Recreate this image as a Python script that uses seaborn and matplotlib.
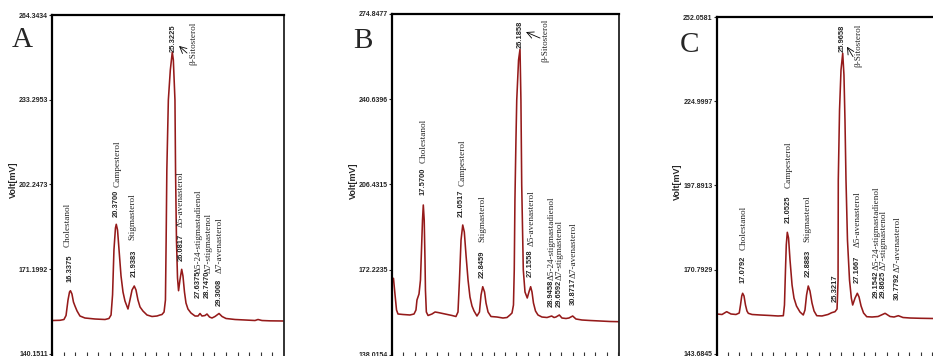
import matplotlib
matplotlib.use("Agg")

import numpy as np
import matplotlib.pyplot as plt
import seaborn as sns
from matplotlib import font_manager

# ───────────── chromatogram traces (min, mV) ─────────────
A_TIME = [14.80, 15.49, 15.83, 16.01, 16.18, 16.31, 16.39, 16.52, 16.65, 16.78,
          16.96, 17.21, 17.64, 18.51, 19.37, 19.71, 19.89, 20.02, 20.14, 20.27,
          20.34, 20.45, 20.58, 20.75, 20.92, 21.09, 21.35, 21.52, 21.70, 21.89,
          22.04, 22.21, 22.39, 22.64, 22.99, 23.42, 23.85, 24.11, 24.28, 24.46,
          24.58, 24.64, 24.70, 24.83, 25.00, 25.17, 25.26, 25.40, 25.45, 25.53,
          25.62, 25.71, 25.83, 25.98, 26.09, 26.22, 26.35, 26.52, 26.78, 27.13,
          27.39, 27.56, 27.73, 27.99, 28.16, 28.38, 28.59, 28.85, 29.20, 29.46,
          29.80, 30.58, 31.44, 32.30, 32.56, 32.90, 33.59, 34.80]
A_VOLT = [152.42, 152.50, 152.79, 154.25, 159.93, 162.86, 163.34, 162.13, 159.20, 157.73,
          155.90, 154.07, 153.34, 152.97, 152.79, 153.16, 154.44, 161.80, 178.25, 186.31,
          187.67, 185.58, 178.25, 168.73, 162.86, 159.57, 156.64, 159.93, 163.60, 165.06,
          163.60, 159.93, 157.37, 155.90, 154.44, 153.89, 154.07, 154.44, 154.62, 155.54,
          159.93, 181.91, 207.56, 233.20, 244.19, 250.79, 247.86, 233.20, 207.56, 181.91,
          167.99, 163.34, 167.26, 171.18, 168.73, 162.86, 158.83, 156.64, 155.17, 154.07,
          154.07, 154.99, 154.07, 154.25, 154.80, 153.70, 153.34, 153.89, 154.99, 153.89,
          153.16, 152.79, 152.61, 152.42, 152.79, 152.42, 152.30, 152.24]

B_TIME = [14.76, 14.89, 15.03, 15.16, 15.29, 15.73, 16.35, 16.71, 16.88, 16.97,
          17.15, 17.28, 17.37, 17.46, 17.53, 17.61, 17.68, 17.72, 17.80, 17.95,
          18.30, 18.57, 18.83, 19.45, 20.07, 20.42, 20.60, 20.73, 20.87, 21.02,
          21.16, 21.31, 21.49, 21.66, 21.84, 22.02, 22.28, 22.50, 22.64, 22.79,
          22.95, 23.08, 23.26, 23.52, 24.05, 24.58, 24.94, 25.20, 25.38, 25.51,
          25.58, 25.64, 25.73, 25.80, 25.96, 26.09, 26.17, 26.24, 26.38, 26.53,
          26.73, 26.88, 27.03, 27.15, 27.28, 27.46, 27.68, 28.03, 28.48, 28.89,
          29.10, 29.27, 29.57, 29.80, 30.16, 30.42, 30.75, 31.04, 31.57, 32.28,
          33.17, 34.05, 34.85]
B_VOLT = [167.31, 168.79, 162.09, 156.07, 154.47, 154.27, 154.07, 154.47, 156.07, 160.09,
          162.49, 168.11, 180.15, 192.19, 198.21, 192.19, 176.14, 164.10, 155.27, 153.87,
          154.47, 155.27, 155.07, 154.47, 153.87, 153.46, 155.27, 168.11, 184.16, 190.18,
          187.37, 178.14, 168.11, 161.29, 157.68, 155.67, 153.66, 155.27, 162.09, 165.42,
          163.30, 158.88, 155.27, 153.46, 153.26, 152.86, 153.06, 154.07, 154.87, 158.08,
          172.12, 200.21, 224.29, 240.34, 256.39, 260.68, 240.34, 206.23, 172.12, 163.30,
          160.89, 163.30, 165.42, 163.30, 158.88, 155.67, 154.07, 153.26, 153.06, 153.66,
          153.06, 153.26, 154.07, 152.86, 152.66, 152.86, 153.66, 152.46, 152.06, 151.86,
          151.66, 151.46, 151.38]

C_TIME = [14.78, 15.25, 15.66, 16.04, 16.48, 16.77, 16.88, 16.99, 17.07, 17.19,
          17.32, 17.45, 17.57, 17.90, 18.60, 19.48, 20.19, 20.66, 20.76, 20.85,
          20.92, 21.01, 21.12, 21.25, 21.43, 21.60, 21.82, 22.13, 22.42, 22.57,
          22.71, 22.86, 23.01, 23.19, 23.37, 23.61, 24.07, 24.60, 24.93, 25.22,
          25.40, 25.49, 25.51, 25.62, 25.75, 25.90, 26.01, 26.10, 26.19, 26.32,
          26.50, 26.66, 26.78, 26.99, 27.19, 27.34, 27.52, 27.74, 28.02, 28.49,
          29.02, 29.64, 30.08, 30.43, 30.81, 31.22, 31.84, 32.72, 33.87, 34.93]
C_VOLT = [156.55, 156.39, 157.29, 156.55, 156.39, 156.87, 159.44, 162.34, 163.21, 162.34,
          159.44, 157.51, 156.77, 156.39, 156.23, 156.07, 155.91, 156.00, 159.44, 170.70,
          178.74, 182.82, 180.99, 173.91, 165.87, 161.69, 159.12, 157.19, 156.23, 157.83,
          162.66, 165.55, 163.94, 160.08, 157.51, 156.00, 155.91, 156.39, 156.97, 157.29,
          158.16, 167.48, 199.64, 222.15, 235.02, 240.39, 233.41, 218.94, 199.64, 180.35,
          167.48, 161.69, 159.44, 161.69, 163.21, 162.02, 159.12, 156.87, 155.68, 155.58,
          155.74, 156.77, 155.74, 155.58, 156.00, 155.42, 155.26, 155.17, 155.10, 155.10]

A_YTICKS = [140.1511, 171.1992, 202.2473, 233.2953, 264.3434]
B_YTICKS = [138.0154, 172.2235, 206.4315, 240.6396, 274.8477]
C_YTICKS = [143.6845, 170.7929, 197.8913, 224.9997, 252.0581]

A_RT = ["16.3375", "20.3700", "21.9383", "25.3225", "26.0817",
        "27.6375", "28.7470", "29.3008"]
B_RT = ["17.5700", "21.0517", "22.8459", "26.1858", "27.1558",
        "28.9458", "29.6592", "30.8717"]
C_RT = ["17.0792", "21.0525", "22.8883", "25.3217", "25.9658", "27.1667",
        "29.1542", "29.8625", "30.7792"]

STEROLS = ["Cholestanol", "Campesterol", "Stigmasterol", "β-Sitosterol",
           "Δ5-avenasterol", "Δ5-24-stigmastadienol", "Δ7-stigmastenol",
           "Δ7-avenasterol"]

# ───────────── layout (label anchors in data units, panel boxes in px) ─────────────
W, H = 933, 356
PANELS = {
    "A": dict(box=(52, 15, 232), xlim=(14.80, 34.80), ylim=(139.4184, 264.3434),
              num_pos=[(16.35, 166.5), (20.32, 190.4), (21.89, 168.5), (25.21, 250.9),
                       (25.92, 174.2), (27.42, 160.7), (28.18, 160.7), (29.20, 157.7)],
              name_pos=[(16.18, 179.3), (20.45, 201.3), (21.76, 181.9), (26.98, 246.0),
                        (25.92, 186.7), (27.46, 169.8), (28.30, 169.8), (29.28, 169.8)],
              arrow=((26.44, 250.4), (25.75, 253.0)),
              letter=(12, 47), ylab=(-0.147, 0.516)),
    "B": dict(box=(392, 14, 227), xlim=(14.76, 34.85), ylim=(137.614, 274.8477),
              num_pos=[(17.53, 202.2), (20.93, 193.5), (22.79, 168.8), (26.09, 261.1),
                       (27.03, 169.3), (28.84, 157.3), (29.56, 157.3), (30.80, 158.1)],
              name_pos=[(17.53, 215.1), (21.02, 205.8), (22.79, 183.5), (28.30, 255.6),
                        (27.10, 181.8), (28.90, 168.1), (29.62, 168.1), (30.82, 168.8)],
              arrow=((27.86, 265.2), (26.62, 267.6)),
              letter=(353, 48), ylab=(-0.148, 0.512)),
    "C": dict(box=(716.7, 17, 228.9), xlim=(14.78, 34.98), ylim=(143.04, 252.0581),
              num_pos=[(17.13, 166.4), (21.10, 185.7), (22.86, 168.5), (25.27, 160.5),
                       (25.90, 240.9), (27.19, 166.4), (28.86, 161.6), (29.48, 161.6),
                       (30.76, 161.0)],
              name_pos=[(17.19, 177.1), (21.10, 197.1), (22.81, 179.8), (27.28, 236.1),
                        (27.19, 178.2), (28.88, 170.7), (29.52, 170.7), (30.78, 170.2)],
              arrow=((26.81, 239.3), (26.28, 242.5)),
              letter=(680, 52), ylab=(-0.152, 0.513)),
}
DATA = {
    "A": (A_TIME, A_VOLT, A_YTICKS, A_RT),
    "B": (B_TIME, B_VOLT, B_YTICKS, B_RT),
    "C": (C_TIME, C_VOLT, C_YTICKS, C_RT),
}

TRACE = "#951a1a"

sns.set_theme(style="white")
installed = {f.name for f in font_manager.fontManager.ttflist}
NARROW = "Liberation Sans Narrow" if "Liberation Sans Narrow" in installed else "Liberation Sans"
NUM_SIZE = 6.6 if NARROW.endswith("Narrow") else 5.4
SERIF = "Liberation Serif"
plt.rcParams["font.family"] = [NARROW, "DejaVu Sans"]

fig = plt.figure(figsize=(W / 100, H / 100), dpi=100)

for key, cfg in PANELS.items():
    time, volt, yticks, rts = DATA[key]
    left, top, width = cfg["box"]
    ax = fig.add_axes([left / W, 0, width / W, (H - top) / H])

    sns.lineplot(x=time, y=volt, ax=ax, color=TRACE, linewidth=1.15,
                 estimator=None, sort=False)

    ax.set_xlim(*cfg["xlim"])
    ax.set_ylim(*cfg["ylim"])
    ax.set_xticks(np.arange(cfg["xlim"][0], cfg["xlim"][1], 1.0))
    ax.set_xticklabels([])
    ax.set_yticks(yticks)
    ax.set_yticklabels([f"{v:.4f}" for v in yticks])
    ax.tick_params(axis="x", direction="in", length=3, width=0.8, color="#333333",
                   bottom=True)
    ax.tick_params(axis="y", direction="out", length=2, width=0.8, pad=1,
                   labelsize=5, left=True)
    for lab in ax.get_yticklabels():
        lab.set_fontweight("bold")

    for side in ("left", "top"):
        ax.spines[side].set_linewidth(1.6)
        ax.spines[side].set_color("black")
    ax.spines["right"].set_linewidth(1.3)
    ax.spines["right"].set_color("#222222")
    ax.spines["bottom"].set_visible(False)

    ax.set_xlabel("")
    ax.set_ylabel("Volt[mV]", fontsize=6.5, fontweight="bold")
    ax.yaxis.set_label_coords(*cfg["ylab"])

    for rt, (x, y) in zip(rts, cfg["num_pos"]):
        ax.text(x, y, rt, rotation=90, ha="center", va="bottom",
                fontsize=NUM_SIZE, fontweight="bold", clip_on=False)
    for name, (x, y) in zip(STEROLS, cfg["name_pos"]):
        ax.text(x, y, name, rotation=90, ha="center", va="bottom",
                fontsize=6.6, family=[SERIF, "DejaVu Serif"], clip_on=False)

    tail, head = cfg["arrow"]
    ax.annotate("", xy=head, xytext=tail,
                arrowprops=dict(arrowstyle="->", lw=0.6, color="black",
                                shrinkA=0, shrinkB=0))

    lx, ly = cfg["letter"]
    fig.text(lx / W, (H - ly) / H, key, fontsize=21, family=[SERIF, "DejaVu Serif"],
             ha="left", va="baseline")

fig.savefig("out.png", dpi=100)
